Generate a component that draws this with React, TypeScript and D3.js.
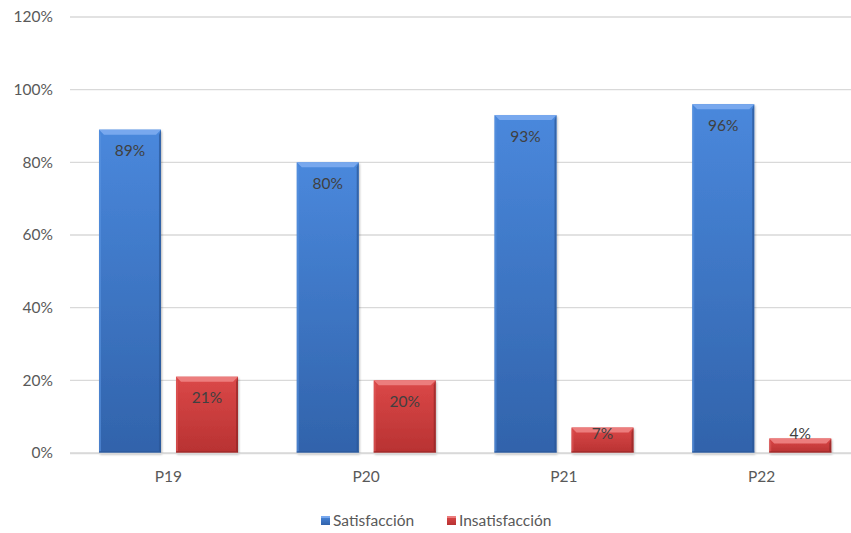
import React from 'react';
import * as d3 from 'd3';

const categories = ['P19', 'P20', 'P21', 'P22'];
const seriesNames = ['Satisfacción', 'Insatisfacción'];
const satisfaccion = [0.89, 0.8, 0.93, 0.96];
const insatisfaccion = [0.21, 0.2, 0.07, 0.04];
const yTicks = [0, 0.2, 0.4, 0.6, 0.8, 1.0, 1.2];

const W = 851;
const H = 533;
const FONT = 'Lato, "Open Sans", sans-serif';
const FS = 15.5;
const TEXT = '#595959';

const palette = {
  'Satisfacción': { top: '#4a88dc', bottom: '#3163ab', hi: '#78a8ee', dark: '#2a5596', light: '#5893e0' },
  'Insatisfacción': { top: '#db4848', bottom: '#b83232', hi: '#ec7d7d', dark: '#922626', light: '#e05a5a' },
};

const App = () => {
  const x = d3.scaleBand<string>().domain(categories).range([69.5, 860.5]);
  const inner = d3
    .scaleBand<string>()
    .domain(seriesNames)
    .range([29.5, 168.5])
    .paddingInner(0.195);
  const y = d3.scaleLinear().domain([0, 1.2]).range([453, 17]);
  const fmt = d3.format('.0%');

  const rows = categories.map((c, i) => ({
    cat: c,
    values: [
      { name: seriesNames[0], v: satisfaccion[i] },
      { name: seriesNames[1], v: insatisfaccion[i] },
    ],
  }));

  const bw = inner.bandwidth();
  const bev = 5;

  return (
    <svg width={W} height={H} style={{ display: 'block', position: 'absolute', left: 0, top: 0 }}>
      <defs>
        {seriesNames.map((s, k) => (
          <linearGradient key={s} id={`g${k}`} x1="0" y1="0" x2="0" y2="1">
            <stop offset="0" stopColor={palette[s].top} />
            <stop offset="1" stopColor={palette[s].bottom} />
          </linearGradient>
        ))}
        <filter id="sh" x="-20%" y="-20%" width="140%" height="140%">
          <feDropShadow dx="1" dy="1.5" stdDeviation="1.2" floodColor="#000" floodOpacity="0.28" />
        </filter>
      </defs>
      <rect width={W} height={H} fill="#fff" />

      {/* gridlines + y labels */}
      {yTicks.map((t) => (
        <g key={t}>
          <line x1={70} x2={W} y1={y(t)} y2={y(t)} stroke="#d9d9d9" strokeWidth={1.3} />
          <text x={53} y={y(t)} dy="0.35em" textAnchor="end" fontFamily={FONT} fontSize={FS} fill={TEXT}>
            {fmt(t)}
          </text>
        </g>
      ))}

      {/* bars */}
      {rows.map((r) => (
        <g key={r.cat} transform={`translate(${x(r.cat)},0)`}>
          {r.values.map((d, k) => {
            const p = palette[d.name];
            const x0 = inner(d.name)!;
            const top = y(d.v);
            const bot = y(0);
            const h = bot - top;
            const b = Math.min(bev, h / 2);
            return (
              <g key={d.name}>
                <rect x={x0} y={top} width={bw} height={h} fill={`url(#g${k})`} filter="url(#sh)" />
                <polygon
                  points={`${x0},${top} ${x0 + bw},${top} ${x0 + bw - b},${top + b} ${x0 + b},${top + b}`}
                  fill={p.hi}
                />
                <polygon
                  points={`${x0},${top} ${x0 + 2},${top + b} ${x0 + 2},${bot - 2} ${x0},${bot}`}
                  fill={p.light}
                  opacity={0.6}
                />
                <polygon
                  points={`${x0 + bw},${top} ${x0 + bw - 2},${top + b} ${x0 + bw - 2},${bot - 2} ${x0 + bw},${bot}`}
                  fill={p.dark}
                  opacity={0.7}
                />
                <rect x={x0} y={bot - 2} width={bw} height={2} fill={p.dark} opacity={0.5} />
                <text
                  x={x0 + bw / 2}
                  y={Math.min(top + 21, bot - 19)}
                  dy="0.35em"
                  textAnchor="middle"
                  fontFamily={FONT}
                  fontSize={FS}
                  fill="#404040"
                >
                  {fmt(d.v)}
                </text>
              </g>
            );
          })}
        </g>
      ))}

      {/* x axis */}
      <line x1={70} x2={W} y1={453.5} y2={453.5} stroke="#d9d9d9" strokeWidth={1.3} />
      {categories.map((c) => (
        <text
          key={c}
          x={x(c)! + x.bandwidth() / 2}
          y={477}
          dy="0.35em"
          textAnchor="middle"
          fontFamily={FONT}
          fontSize={FS}
          fill={TEXT}
        >
          {c}
        </text>
      ))}

      {/* legend */}
      {seriesNames.map((s, k) => {
        const lx = [321, 447][k];
        const p = palette[s];
        return (
          <g key={s}>
            <rect x={lx} y={516} width={9} height={9} fill={`url(#g${k})`} />
            <rect x={lx} y={516} width={9} height={2} fill={p.hi} />
            <text x={lx + 12} y={520.5} dy="0.35em" fontFamily={FONT} fontSize={FS} fill={TEXT}>
              {s}
            </text>
          </g>
        );
      })}
    </svg>
  );
};

export default App;
